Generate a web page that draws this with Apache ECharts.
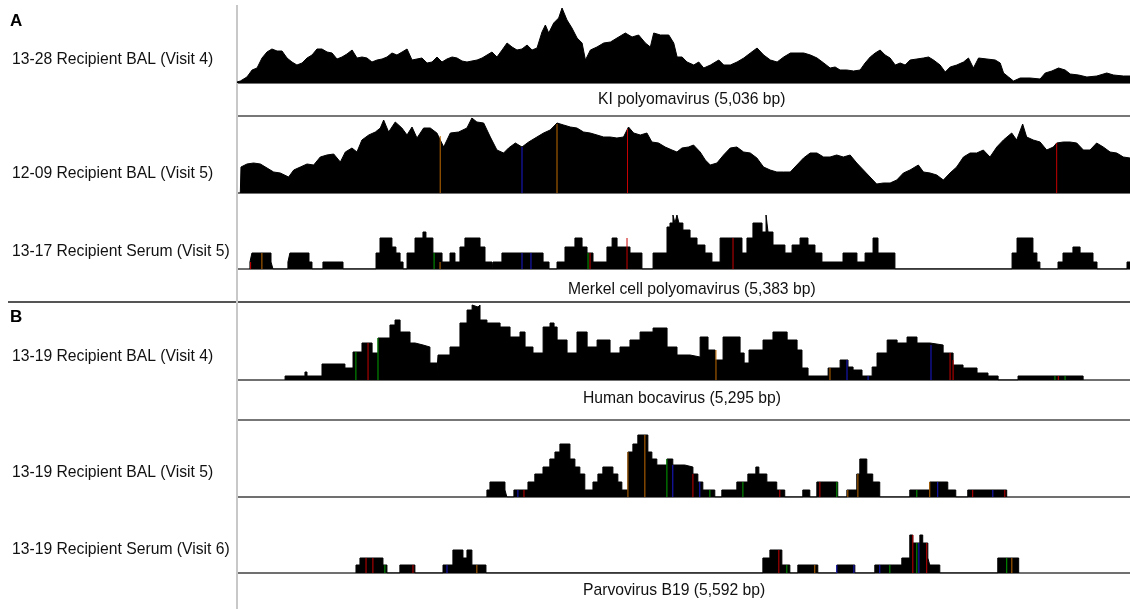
<!DOCTYPE html>
<html><head><meta charset="utf-8">
<script src="https://cdn.jsdelivr.net/npm/echarts@6/dist/echarts.min.js"></script>
<style>html,body{margin:0;padding:0;background:#fff}#c{width:1130px;height:609px}</style>
</head><body><div id="c"></div>
<script>
// ---- data ----
const panelLetters = ['A', 'B'];
const sampleLabels = [
  '13-28 Recipient BAL (Visit 4)',
  '12-09 Recipient BAL (Visit 5)',
  '13-17 Recipient Serum (Visit 5)',
  '13-19 Recipient BAL (Visit 4)',
  '13-19 Recipient BAL (Visit 5)',
  '13-19 Recipient Serum (Visit 6)'
];
const virusLabels = [
  'KI polyomavirus (5,036 bp)',
  'Merkel cell polyomavirus (5,383 bp)',
  'Human bocavirus (5,295 bp)',
  'Parvovirus B19 (5,592 bp)'
];
const genomeLengths = [5036, 5383, 5383, 5295, 5592, 5592];

// smooth coverage: [position bp, depth]
const track1 = [[0,1],[19,2],[56,6],[85,13],[113,15],[141,25],[169,31],[197,34],[226,32],[254,32],[282,25],[310,21],[338,18],[367,20],[395,25],[423,28],[451,34],[479,34],[508,31],[536,30],[564,24],[592,26],[620,29],[649,33],[677,25],[705,26],[733,25],[761,21],[790,23],[818,24],[846,26],[874,30],[902,28],[931,31],[959,34],[987,23],[1015,24],[1043,25],[1072,20],[1100,21],[1128,26],[1156,21],[1184,24],[1213,26],[1241,25],[1269,22],[1297,21],[1325,22],[1354,23],[1382,25],[1410,28],[1438,31],[1466,26],[1495,33],[1523,40],[1551,36],[1579,33],[1607,34],[1636,38],[1664,33],[1692,35],
  [1720,51],[1739,58],[1758,50],[1786,60],[1814,65],[1833,75],[1861,63],[1889,55],[1918,45],[1946,40],[1965,23],[1993,33],[2030,36],[2068,40],[2106,41],[2143,45],[2190,50],[2228,46],[2265,48],[2303,40],[2331,36],[2350,50],[2388,48],[2435,48],[2463,40],[2482,26],[2510,26],[2538,21],[2576,18],[2604,21],[2632,15],[2670,18],[2717,23],[2745,18],[2782,18],[2820,21],[2858,25],[2895,30],[2933,35],[2970,28],[3008,23],[3046,21],[3083,26],[3121,30],[3158,30],[3196,30],[3234,28],[3271,25],[3309,20],
  [3345,15],[3373,16],[3401,13],[3439,13],[3477,12],[3514,13],[3542,20],[3571,26],[3599,30],[3627,33],[3655,28],[3683,25],[3712,18],[3740,20],[3768,18],[3796,23],[3834,24],[3871,25],[3900,26],[3928,23],[3965,18],[3994,11],[4022,16],[4059,18],[4097,21],[4125,25],[4153,15],[4182,25],[4229,24],[4276,23],[4304,20],[4323,10],[4351,6],[4379,2],[4417,5],[4473,5],[4529,4],[4558,10],[4595,12],[4633,15],[4670,13],[4699,9],[4746,8],[4793,6],[4849,7],[4905,10],[4943,8],[4999,7],[5036,7]];
const track2 = [[20,0],[24,26],[60,29],[100,30],[141,29],[181,25],[221,21],[261,20],[311,16],[342,23],[382,26],[422,29],[462,28],[502,36],[542,38],[583,39],[623,31],[653,41],[693,45],[723,41],[753,53],[794,58],[834,61],[864,65],[884,73],[914,61],[954,71],[994,65],[1025,58],[1055,66],[1085,55],[1125,65],[1165,65],[1205,60],[1246,46],[1286,60],[1336,61],[1386,65],[1416,75],[1446,71],[1487,70],[1527,56],[1567,43],[1607,40],[1637,45],[1678,50],[1718,46],[1758,51],
  [1808,56],[1848,60],[1888,63],[1929,70],[1969,68],[2009,66],[2049,65],[2089,61],[2129,60],[2170,58],[2210,56],[2250,56],[2290,55],[2330,56],[2360,66],[2391,60],[2431,58],[2471,60],[2501,51],[2541,50],[2581,46],[2622,43],[2652,41],[2682,45],[2722,46],[2752,48],[2792,41],[2823,33],[2853,28],[2893,30],[2933,38],[2973,45],[3013,46],[3054,41],[3094,40],[3134,35],[3174,26],[3214,23],[3254,21],[3295,21],[3335,21],[3375,28],[3415,35],[3455,40],[3496,40],[3536,36],
  [3575,36],[3615,38],[3655,36],[3696,38],[3736,30],[3776,23],[3816,16],[3856,9],[3896,10],[3937,10],[3977,13],[4017,20],[4057,23],[4107,28],[4138,21],[4178,20],[4218,18],[4258,13],[4298,20],[4338,26],[4379,36],[4419,40],[4459,40],[4499,43],[4539,36],[4580,46],[4620,53],[4670,60],[4700,53],[4736,69],[4760,56],[4800,53],[4841,51],[4881,43],[4921,46],[4941,50],[4981,51],[5021,51],[5062,50],[5102,43],[5142,43],[5182,50],[5222,46],[5263,41],[5303,40],[5343,36],[5383,35]];

// blocky coverage: [start bp, end bp, depth]
const track3 = [[78,90,7],[90,205,16],[205,217,7],[307,319,7],[319,434,16],[434,452,7],[518,639,7],
  [838,862,16],[862,934,31],[934,958,22],[958,983,16],[983,1001,7],
  [1025,1073,16],[1073,1121,31],[1121,1139,37],[1139,1181,31],[1181,1236,16],[1236,1284,7],[1284,1314,16],[1314,1344,7],[1344,1374,22],[1374,1465,31],[1465,1495,22],[1495,1537,7],
  [1543,1597,7],[1597,1845,16],[1845,1881,7],
  [1929,1977,7],[1977,2037,22],[2037,2080,31],[2080,2110,22],[2110,2146,16],[2146,2230,7],[2230,2261,22],[2261,2291,31],[2291,2369,22],[2369,2441,16],
  [2508,2592,16],[2592,2610,42],[2610,2628,46],[2628,2640,54],[2640,2652,46],[2652,2664,54],[2664,2688,46],[2688,2731,39],[2731,2773,31],[2773,2821,24],[2821,2863,16],[2863,2912,7],
  [2912,3044,31],[3044,3074,16],[3074,3110,31],[3110,3165,46],[3165,3189,37],[3189,3201,54],[3201,3231,37],[3231,3303,24],[3303,3346,16],[3346,3394,24],[3394,3442,31],[3442,3484,24],[3484,3526,16],[3526,3653,7],[3653,3737,16],[3737,3786,7],[3786,3834,16],[3834,3864,31],[3864,3966,16],
  [4672,4702,16],[4702,4798,31],[4798,4822,16],[4822,4840,7],
  [4949,4979,7],[4979,5039,16],[5039,5082,22],[5082,5160,16],[5160,5184,7],[5365,5383,7]];
const track4 = [[285,403,4],[403,415,8],[415,504,4],[504,640,16],[640,688,12],[688,741,28],[741,801,37],[801,836,27],[836,907,42],[907,937,55],[937,967,60],
  [967,1026,48],[1026,1056,37],[1056,1103,35],[1103,1144,33],[1144,1186,17],[1186,1192,10],[1192,1263,25],[1263,1322,33],[1322,1364,57],[1364,1394,70],[1394,1405,75],[1405,1429,73],[1429,1441,75],[1441,1482,60],[1482,1560,57],[1560,1619,53],[1619,1678,43],[1678,1708,48],[1708,1755,33],[1755,1815,27],[1815,1856,53],[1856,1880,57],[1880,1898,53],[1898,1957,40],[1957,2016,27],[2016,2076,48],[2076,2135,33],[2135,2212,40],[2212,2271,27],[2271,2330,33],[2330,2390,40],[2390,2467,48],[2467,2550,52],[2550,2609,33],[2609,2686,25],[2686,2746,23],[2746,2793,43],[2793,2835,30],[2835,2882,20],[2882,2983,43],[2983,3007,27],[3007,3036,17],[3036,3119,30],[3119,3178,40],[3178,3262,48],[3262,3321,40],[3321,3350,30],[3350,3386,12],[3386,3505,4],[3505,3576,12],[3576,3623,20],[3623,3653,13],[3653,3706,10],[3706,3766,4],[3766,3795,13],[3795,3855,27],[3855,3914,40],[3914,3973,37],[3973,4032,43],[4032,4109,37],[4109,4187,35],[4187,4246,27],[4246,4305,15],[4305,4388,12],[4388,4453,7],[4453,4513,4],[4631,5017,4]];
const track5 = [[1565,1584,7],[1584,1678,15],[1678,1690,7],
  [1734,1822,7],[1822,1865,15],[1865,1916,23],[1916,1959,30],[1959,1991,38],[1991,2022,45],[2022,2085,53],[2085,2116,38],[2116,2147,30],[2147,2178,23],[2178,2229,7],[2229,2260,15],[2260,2291,23],[2291,2354,30],[2354,2385,23],[2385,2410,15],[2410,2448,7],[2448,2479,45],[2479,2510,53],[2510,2573,62],[2573,2598,45],[2598,2629,38],[2629,2692,32],[2692,2729,38],[2729,2804,32],[2804,2855,30],[2855,2886,23],[2886,2917,15],[2917,2992,7],
  [3036,3130,7],[3130,3199,15],[3199,3249,23],[3249,3268,30],[3268,3318,23],[3318,3380,15],[3380,3430,7],
  [3543,3587,7],[3631,3762,15],[3819,3881,7],[3881,3900,23],[3900,3944,38],[3944,3981,23],[3981,4025,15],
  [4213,4338,7],[4338,4451,15],[4451,4501,7],[4576,4820,7]];
const track6 = [[745,770,8],[770,914,15],[914,939,8],[1020,1114,8],
  [1290,1352,8],[1352,1415,23],[1415,1440,15],[1440,1471,23],[1471,1559,8],
  [3293,3337,15],[3337,3412,23],[3412,3462,8],[3512,3637,8],[3756,3869,8],
  [3994,4163,8],[4163,4213,15],[4213,4232,38],[4232,4276,30],[4276,4294,38],[4294,4326,30],[4326,4338,15],[4338,4401,8],[4764,4895,15]];

// mismatch positions: [position bp, depth, base]
const mismatch2 = [[1225,57,'G'],[1718,46,'C'],[1929,69,'G'],[2354,64,'T'],[4941,50,'T']];
const mismatch3 = [[82,7,'T'],[150,16,'G'],[1188,16,'A'],[1224,7,'G'],[1718,16,'C'],[1772,16,'C'],[2116,16,'A'],[2128,16,'T'],[2351,31,'T'],[2990,31,'T']];
const mismatch4 = [[705,28,'A'],[777,37,'T'],[836,42,'A'],[2840,30,'G'],[3516,12,'G'],[3617,20,'C'],[3742,4,'C'],[4115,35,'C'],[4228,27,'T'],[4246,20,'T'],[4850,4,'A'],[4870,4,'T'],[4910,4,'A']];
const mismatch5 = [[1759,7,'C'],[1797,7,'T'],[2448,45,'G'],[2554,62,'G'],[2692,38,'A'],[2729,32,'C'],[2855,23,'T'],[2898,15,'C'],[2961,7,'A'],[3168,15,'A'],[3399,7,'T'],[3650,15,'T'],[3756,15,'A'],[3825,7,'G'],[3888,23,'G'],[4257,7,'A'],[4338,15,'G'],[4388,15,'C'],[4607,7,'T'],[4733,7,'C'],[4808,7,'T']];
const mismatch6 = [[808,15,'T'],[851,15,'T'],[926,8,'A'],[1102,8,'T'],[1315,8,'C'],[1502,8,'G'],[3393,23,'T'],[3443,8,'A'],[3618,8,'G'],[3756,8,'C'],[3863,8,'C'],[4025,8,'C'],[4088,8,'A'],[4232,38,'T'],[4257,30,'A'],[4270,30,'C'],[4319,30,'T'],[4820,15,'A'],[4852,15,'G']];

// ---- layout / style ----
const baseColors = {A: '#00a000', C: '#1a1ad0', G: '#c06a00', T: '#c80000'};
const gridBoxes = [[5,78],[117,76],[195,74],[303,77],[422,75],[498,75]]; // [top, height]
const smoothTracks = [track1, track2, null, null, null, null];
const blockTracks = [null, null, track3, track4, track5, track6];
const mismatches = [[], mismatch2, mismatch3, mismatch4, mismatch5, mismatch6];

function blocksToPoints(segs) {
  const pts = [];
  let prevEnd = null;
  segs.forEach(([s, e, d]) => {
    if (prevEnd === null || prevEnd !== s) {
      if (prevEnd !== null) pts.push([prevEnd, 0]);
      pts.push([s, 0]);
    }
    pts.push([s, d], [e, d]);
    prevEnd = e;
  });
  if (prevEnd !== null) pts.push([prevEnd, 0]);
  return pts;
}

const grids = [], xAxes = [], yAxes = [], series = [];
gridBoxes.forEach(([top, h], i) => {
  grids.push({left: 237, width: 893, top: top, height: h, containLabel: false});
  xAxes.push({type: 'value', gridIndex: i, min: 0, max: genomeLengths[i],
    axisLine: {show: true, onZero: false, lineStyle: {color: '#707070', width: 2}},
    axisTick: {show: false}, axisLabel: {show: false}, splitLine: {show: false}});
  yAxes.push({type: 'value', gridIndex: i, min: 0, max: h, show: false});
  const data = smoothTracks[i] ? smoothTracks[i] : blocksToPoints(blockTracks[i]);
  series.push({type: 'line', xAxisIndex: i, yAxisIndex: i, data: data, symbol: 'none',
    silent: true, lineStyle: {color: '#000', width: 1}, areaStyle: {color: '#000', opacity: 1}, z: 2});
  if (mismatches[i].length) {
    series.push({type: 'bar', xAxisIndex: i, yAxisIndex: i, barWidth: 1, silent: true, z: 3,
      data: mismatches[i].map(([p, d, b]) => ({value: [p, d], itemStyle: {color: baseColors[b]}}))});
  }
});

const font = '15.7px "Liberation Sans", Arial, sans-serif';
const graphics = [
  {type: 'line', shape: {x1: 237, y1: 5, x2: 237, y2: 609}, style: {stroke: '#c8c8c8', lineWidth: 2}, z: 1},
  {type: 'line', shape: {x1: 237, y1: 116, x2: 1130, y2: 116}, style: {stroke: '#777', lineWidth: 2}},
  {type: 'line', shape: {x1: 8, y1: 302, x2: 1130, y2: 302}, style: {stroke: '#555', lineWidth: 2}},
  {type: 'line', shape: {x1: 237, y1: 420, x2: 1130, y2: 420}, style: {stroke: '#777', lineWidth: 2}}
];
const letterY = [21, 317];
panelLetters.forEach((t, i) => graphics.push({type: 'text', x: 10, y: letterY[i],
  style: {text: t, font: 'bold 17px "Liberation Sans", Arial, sans-serif', fill: '#000', textVerticalAlign: 'middle'}}));
const sampleY = [60, 174, 252, 357, 473, 550];
sampleLabels.forEach((t, i) => graphics.push({type: 'text', x: 12, y: sampleY[i],
  style: {text: t, font: font, fill: '#111', textVerticalAlign: 'middle'}}));
const virusPos = [[598, 99.5], [568, 290], [583, 399], [583, 591]];
virusLabels.forEach((t, i) => graphics.push({type: 'text', x: virusPos[i][0], y: virusPos[i][1],
  style: {text: t, font: font, fill: '#111', textVerticalAlign: 'middle'}}));

const chart = echarts.init(document.getElementById('c'), null, {renderer: 'canvas'});
chart.setOption({
  animation: false,
  backgroundColor: '#fff',
  grid: grids, xAxis: xAxes, yAxis: yAxes, series: series,
  graphic: graphics
});
</script>
</body></html>
